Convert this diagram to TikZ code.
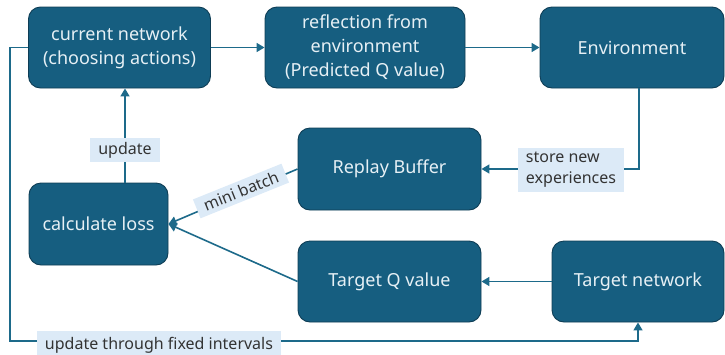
\documentclass[tikz,border=0pt]{standalone}
\usepackage{fontspec}
\setmainfont{Noto Sans}
\usetikzlibrary{arrows.meta}
\definecolor{boxfill}{HTML}{165E80}
\definecolor{boxedge}{HTML}{0E3D55}
\definecolor{boxtext}{HTML}{E6F0F5}
\definecolor{lblfill}{HTML}{DCEAF7}
\definecolor{wirecol}{HTML}{1D6A8A}
\begin{document}
\begin{tikzpicture}[x=1pt,y=-1pt,
 blk/.style={draw=boxedge, line width=0.9pt, fill=boxfill, rounded corners=12pt, text=boxtext, font=\fontsize{18}{24}\selectfont, align=center, inner sep=0pt, minimum height=81pt},
 lab/.style={fill=lblfill, font=\fontsize{16}{21}\selectfont, text=black!80, inner xsep=8pt, inner ysep=4pt, align=left},
 wire/.style={draw=wirecol, line width=1.6pt},
 arr/.style={wire, -{Triangle[length=8pt,width=9pt]}}]
\useasboundingbox (0,0) rectangle (725,354);
\node[blk, minimum width=182pt] (cur) at (119.5,47.5) {current network\\(choosing actions)};
\node[blk, minimum width=200pt] (refl) at (365,47.5) {reflection from\\environment\\(Predicted Q value)};
\node[blk, minimum width=184pt] (env) at (632,47.5) {Environment};
\node[blk, minimum width=183pt, minimum height=82pt] (rb) at (389.5,169) {Replay Buffer};
\node[blk, minimum width=139pt, minimum height=82pt] (cl) at (98.5,224) {calculate loss};
\node[blk, minimum width=183pt] (tq) at (389.5,281.5) {Target Q value};
\node[blk, minimum width=172pt] (tn) at (638,281.5) {Target network};
\coordinate (envdown) at (639,170);
\coordinate (updx) at (125,150);
\coordinate (lp) at (10,341);
\draw[arr] (cur.east) -- (refl.west);
\draw[arr] (refl.east) -- (env.west);
\draw[arr] (env.south -| envdown) |- (rb.east);
\draw[arr] (rb.west) -- (cl.east);
\draw[arr] (tq.west) -- (cl.east);
\draw[arr] (tn.west) -- (tq.east);
\draw[arr] (cl.north -| updx) -- (cur.south -| updx);
\draw[arr] (cur.west) -| (lp) -| (tn.south);
\node[lab] (store) at (571,170) {store new\\experiences};
\node[lab, rotate=22] (mb) at (241,191) {mini batch};
\node[lab] (upd) at (updx) {update};
\node[lab, inner ysep=6pt, text depth=0pt] (fixed) at (159,343) {update through fixed intervals};
\end{tikzpicture}
\end{document}
